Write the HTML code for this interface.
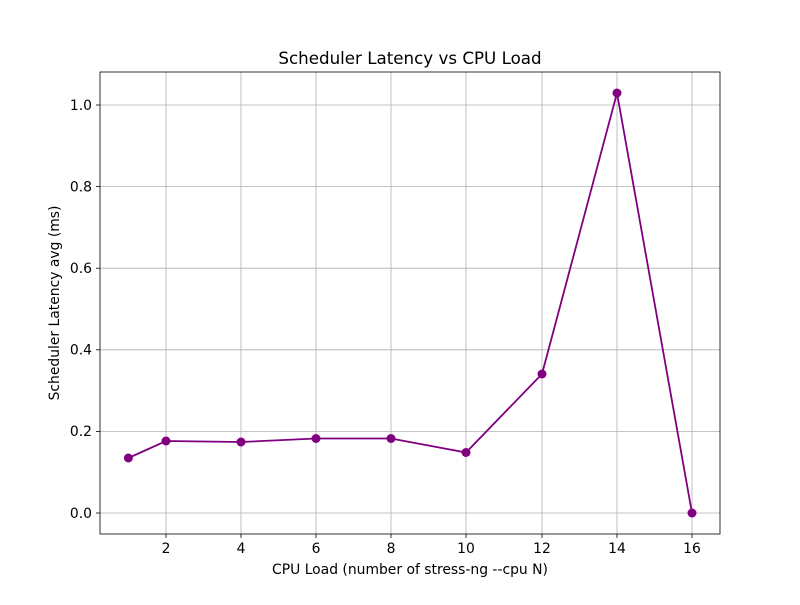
<!DOCTYPE html>
<html><head><meta charset="utf-8"><style>html,body{margin:0;padding:0;background:#fff}</style></head>
<body>
<svg width="800" height="600" xmlns="http://www.w3.org/2000/svg" font-family="'DejaVu Sans',sans-serif">
<rect width="800" height="600" fill="#fff"/>
<g stroke="#b0b0b0" stroke-width="0.8">
<line x1="166" y1="72" x2="166" y2="534"/><line x1="241" y1="72" x2="241" y2="534"/><line x1="316" y1="72" x2="316" y2="534"/><line x1="391" y1="72" x2="391" y2="534"/><line x1="466" y1="72" x2="466" y2="534"/><line x1="542" y1="72" x2="542" y2="534"/><line x1="617" y1="72" x2="617" y2="534"/><line x1="692" y1="72" x2="692" y2="534"/>
<line x1="100" y1="513" x2="720" y2="513"/><line x1="100" y1="431.4" x2="720" y2="431.4"/><line x1="100" y1="349.8" x2="720" y2="349.8"/><line x1="100" y1="268.2" x2="720" y2="268.2"/><line x1="100" y1="186.6" x2="720" y2="186.6"/><line x1="100" y1="105" x2="720" y2="105"/>
</g>
<rect x="100" y="72" width="620" height="462" fill="none" stroke="#000" stroke-width="0.8"/>
<g stroke="#000" stroke-width="0.8">
<line x1="166" y1="534" x2="166" y2="538"/><line x1="241" y1="534" x2="241" y2="538"/><line x1="316" y1="534" x2="316" y2="538"/><line x1="391" y1="534" x2="391" y2="538"/><line x1="466" y1="534" x2="466" y2="538"/><line x1="542" y1="534" x2="542" y2="538"/><line x1="617" y1="534" x2="617" y2="538"/><line x1="692" y1="534" x2="692" y2="538"/>
<line x1="96" y1="513" x2="100" y2="513"/><line x1="96" y1="431.4" x2="100" y2="431.4"/><line x1="96" y1="349.8" x2="100" y2="349.8"/><line x1="96" y1="268.2" x2="100" y2="268.2"/><line x1="96" y1="186.6" x2="100" y2="186.6"/><line x1="96" y1="105" x2="100" y2="105"/>
</g>
<g font-size="13.9" fill="#000" text-anchor="middle">
<text x="166" y="553">2</text><text x="241" y="553">4</text><text x="316" y="553">6</text><text x="391" y="553">8</text><text x="466" y="553">10</text><text x="542" y="553">12</text><text x="617" y="553">14</text><text x="692" y="553">16</text>
</g>
<g font-size="13.9" fill="#000" text-anchor="end">
<text x="92" y="518">0.0</text><text x="92" y="436">0.2</text><text x="92" y="354.5">0.4</text><text x="92" y="273">0.6</text><text x="92" y="191.5">0.8</text><text x="92" y="110">1.0</text>
</g>
<text x="410" y="574" font-size="13.9" text-anchor="middle">CPU Load (number of stress-ng --cpu N)</text>
<text transform="translate(59,303) rotate(-90)" font-size="13.9" text-anchor="middle">Scheduler Latency avg (ms)</text>
<text x="410" y="64" font-size="16.7" text-anchor="middle">Scheduler Latency vs CPU Load</text>
<polyline fill="none" stroke="#800080" stroke-width="1.8" points="128.4,458 166,441 241,442 316,438.5 391,438.5 466,452.5 542,374 617,93 692,513"/>
<g fill="#800080">
<circle cx="128.4" cy="458" r="4.5"/><circle cx="166" cy="441" r="4.5"/><circle cx="241" cy="442" r="4.5"/><circle cx="316" cy="438.5" r="4.5"/><circle cx="391" cy="438.5" r="4.5"/><circle cx="466" cy="452.5" r="4.5"/><circle cx="542" cy="374" r="4.5"/><circle cx="617" cy="93" r="4.5"/><circle cx="692" cy="513" r="4.5"/>
</g>
</svg>
</body></html>
